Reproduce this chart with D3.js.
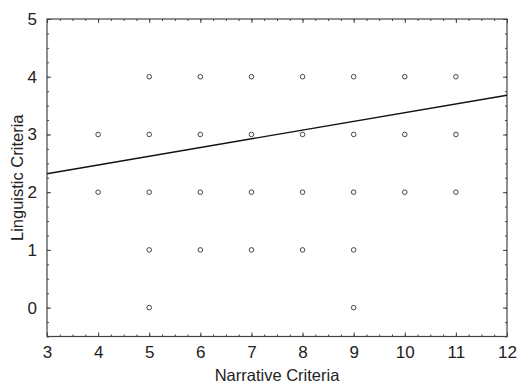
<!DOCTYPE html>
<html>
<head>
<meta charset="utf-8">
<script src="https://cdn.jsdelivr.net/npm/d3@7"></script>
<style>
  body { margin: 0; background: #fff; }
  text { font-family: "Liberation Sans", Arial, sans-serif; fill: #222; }
  .tick text { font-size: 17px; }
</style>
</head>
<body>
<svg id="chart" width="519" height="384"></svg>
<script>
// observed (narrative, linguistic) score pairs
var narrative  = [5, 6, 7, 8, 9, 10, 11,  4, 5, 6, 7, 8, 9, 10, 11,  4, 5, 6, 7, 8, 9, 10, 11,  5, 6, 7, 8, 9,  5, 9];
var linguistic = [4, 4, 4, 4, 4, 4, 4,    3, 3, 3, 3, 3, 3, 3, 3,    2, 2, 2, 2, 2, 2, 2, 2,    1, 1, 1, 1, 1,  0, 0];

// fitted line end points
var fitX = [3, 12];
var fitY = [2.32, 3.68];

var xTicks = [3, 4, 5, 6, 7, 8, 9, 10, 11, 12];
var yTicks = [0, 1, 2, 3, 4, 5];

var margin = {top: 19, right: 12, bottom: 47.5, left: 47};
var width = 519 - margin.left - margin.right,
    height = 384 - margin.top - margin.bottom;

var svg = d3.select("#chart");
var g = svg.append("g").attr("transform", "translate(" + margin.left + "," + margin.top + ")");

var x = d3.scaleLinear().domain([3, 12]).range([0, width]);
var y = d3.scaleLinear().domain([-0.5, 5]).range([height, 0]);

var minorX = d3.range(3, 12.001, 0.25);
var minorY = d3.range(-0.5, 5.001, 0.25);

function styleAxis(sel) {
  sel.select(".domain").remove();
  sel.selectAll("line").attr("stroke", "#444");
  sel.attr("font-size", null).attr("font-family", null);
}

// minor ticks, all four sides, pointing inward
g.append("g").attr("transform", "translate(0," + height + ")")
  .call(d3.axisBottom(x).tickValues(minorX).tickSize(-2).tickFormat(""))
  .call(styleAxis);
g.append("g")
  .call(d3.axisTop(x).tickValues(minorX).tickSize(-2).tickFormat(""))
  .call(styleAxis);
g.append("g")
  .call(d3.axisLeft(y).tickValues(minorY).tickSize(-2).tickFormat(""))
  .call(styleAxis);
g.append("g").attr("transform", "translate(" + width + ",0)")
  .call(d3.axisRight(y).tickValues(minorY).tickSize(-2).tickFormat(""))
  .call(styleAxis);

// major ticks with labels
g.append("g").attr("transform", "translate(0," + height + ")")
  .call(d3.axisBottom(x).tickValues(xTicks).tickSize(-4).tickPadding(9).tickFormat(d3.format("d")))
  .call(styleAxis)
  .selectAll("text").attr("fill", "#222");
g.append("g")
  .call(d3.axisTop(x).tickValues(xTicks).tickSize(-4).tickFormat(""))
  .call(styleAxis);
g.append("g")
  .call(d3.axisLeft(y).tickValues(yTicks).tickSize(-4).tickPadding(10).tickFormat(d3.format("d")))
  .call(styleAxis)
  .selectAll("text").attr("fill", "#222");
g.append("g").attr("transform", "translate(" + width + ",0)")
  .call(d3.axisRight(y).tickValues(yTicks).tickSize(-4).tickFormat(""))
  .call(styleAxis);

// frame
g.append("rect")
  .attr("width", width).attr("height", height)
  .attr("fill", "none").attr("stroke", "#444").attr("stroke-width", 1.2);

// regression line
g.append("line")
  .attr("x1", x(fitX[0])).attr("y1", y(fitY[0]))
  .attr("x2", x(fitX[1])).attr("y2", y(fitY[1]))
  .attr("stroke", "#111").attr("stroke-width", 1.4);

// points
g.selectAll("circle.pt")
  .data(narrative)
  .enter().append("circle")
  .attr("class", "pt")
  .attr("cx", function(d) { return x(d); })
  .attr("cy", function(d, i) { return y(linguistic[i]); })
  .attr("r", 2.3)
  .attr("fill", "none")
  .attr("stroke", "#333")
  .attr("stroke-width", 0.9);

// axis titles
svg.append("text")
  .attr("x", margin.left + width / 2)
  .attr("y", 381)
  .attr("text-anchor", "middle")
  .style("font-size", "16.5px")
  .text("Narrative Criteria");

svg.append("text")
  .attr("transform", "translate(23," + (margin.top + y(2.25)) + ") rotate(-90)")
  .attr("text-anchor", "middle")
  .style("font-size", "16.5px")
  .text("Linguistic Criteria");
</script>
</body>
</html>
